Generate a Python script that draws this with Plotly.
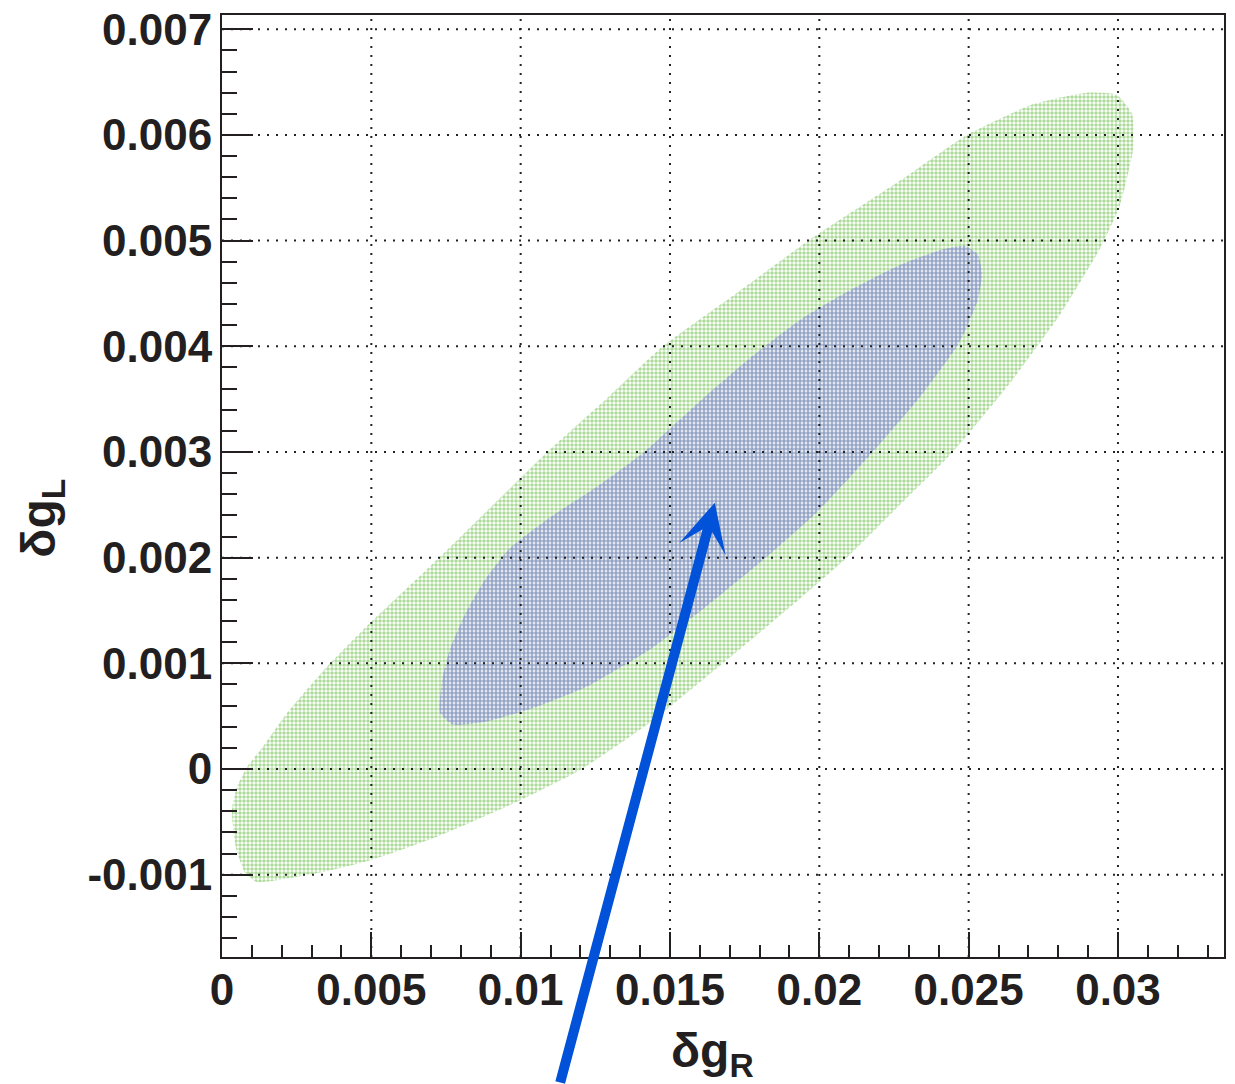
import plotly.graph_objects as go
import numpy as np

# 95% (green) contour boundary, dgR / dgL
green_x = [0.00117, 0.00328, 0.00500, 0.00720, 0.01003, 0.01199, 0.01433, 0.01677, 0.01901,
           0.02092, 0.02270, 0.02447, 0.02638, 0.02806, 0.02939, 0.03006, 0.03050, 0.03047,
           0.02996, 0.02896, 0.02715, 0.02494, 0.02277, 0.01969, 0.01721, 0.01476, 0.01282,
           0.01089, 0.00720, 0.00495, 0.00362, 0.00218, 0.00137, 0.00084, 0.00050, 0.00033,
           0.00047, 0.00077]
green_y = [-0.00107, -0.00098, -0.00086, -0.00064, -0.00029, -0.00001, 0.00044, 0.00100, 0.00153,
           0.00200, 0.00250, 0.00300, 0.00365, 0.00430, 0.00492, 0.00533, 0.00586, 0.00620,
           0.00638, 0.00640, 0.00629, 0.00600, 0.00558, 0.00501, 0.00450, 0.00400, 0.00349,
           0.00300, 0.00198, 0.00138, 0.00100, 0.00053, 0.00021, 0.00002, -0.00017, -0.00039,
           -0.00075, -0.00098]

# 68% (blue) contour boundary
blue_x = [0.00730, 0.00737, 0.00763, 0.00813, 0.00880, 0.00964, 0.01098, 0.01265, 0.01409,
          0.01600, 0.01768, 0.01935, 0.02102, 0.02270, 0.02404, 0.02487, 0.02531, 0.02545,
          0.02531, 0.02497, 0.02461, 0.02337, 0.02179, 0.01992, 0.01825, 0.01600, 0.01443,
          0.01222, 0.01055, 0.00887, 0.00773]
blue_y = [0.00053, 0.00084, 0.00113, 0.00146, 0.00179, 0.00209, 0.00238, 0.00269, 0.00299,
          0.00348, 0.00389, 0.00425, 0.00453, 0.00477, 0.00491, 0.00495, 0.00487, 0.00468,
          0.00444, 0.00420, 0.00400, 0.00352, 0.00300, 0.00243, 0.00201, 0.00149, 0.00115,
          0.00078, 0.00059, 0.00045, 0.00042]

# arrow tip
arrow_x = 0.0165
arrow_y = 0.00252

x_ticks = [0, 0.005, 0.01, 0.015, 0.02, 0.025, 0.03]
x_labels = ["0", "0.005", "0.01", "0.015", "0.02", "0.025", "0.03"]
y_ticks = [-0.001, 0, 0.001, 0.002, 0.003, 0.004, 0.005, 0.006, 0.007]
y_labels = ["-0.001", "0", "0.001", "0.002", "0.003", "0.004", "0.005", "0.006", "0.007"]

x_range = [0, 0.03355]
y_range = [-0.001779, 0.007135]

FONT = "Liberation Sans, Arial, Helvetica, sans-serif"
TXT = "#231f20"

fig = go.Figure()
fig.add_trace(go.Scatter(
    x=green_x + [green_x[0]], y=green_y + [green_y[0]], mode="lines", fill="toself",
    line=dict(width=0, shape="spline", smoothing=0.5),
    fillcolor="rgba(0,0,0,0)",
    fillpattern=dict(shape=".", fgcolor="#5cb535", bgcolor="white",
                     size=4, solidity=0.6),
    hoverinfo="skip", showlegend=False))
fig.add_trace(go.Scatter(
    x=blue_x + [blue_x[0]], y=blue_y + [blue_y[0]], mode="lines", fill="toself",
    line=dict(width=0, shape="spline", smoothing=0.5),
    fillcolor="rgba(0,0,0,0)",
    fillpattern=dict(shape=".", fgcolor="#27478a", bgcolor="white",
                     size=4, solidity=0.7),
    hoverinfo="skip", showlegend=False))

# dotted grid lines on top of the contours
for xv in x_ticks[1:]:
    fig.add_shape(type="line", xref="x", yref="paper", x0=xv, x1=xv, y0=0, y1=1,
                  line=dict(color="#222", width=2, dash="2px,7px"), layer="above")
for yv in y_ticks:
    fig.add_shape(type="line", xref="paper", yref="y", x0=0, x1=1, y0=yv, y1=yv,
                  line=dict(color="#222", width=2, dash="2px,7px"), layer="above")

fig.add_annotation(x=arrow_x, y=arrow_y, xref="x", yref="y", text="",
                   showarrow=True, arrowhead=3, arrowsize=0.8, arrowwidth=10,
                   arrowcolor="#0152d9", ax=-155, ay=600, axref="pixel", ayref="pixel")

fig.add_annotation(x=0.49, y=-0.103, xref="paper", yref="paper",
                   text="<b>δg<sub>R</sub></b>", showarrow=False,
                   font=dict(family=FONT, size=48, color=TXT),
                   xanchor="center", yanchor="middle")
fig.add_annotation(x=-0.18, y=0.466, xref="paper", yref="paper",
                   text="<b>δg<sub>L</sub></b>", showarrow=False, textangle=-90,
                   font=dict(family=FONT, size=48, color=TXT),
                   xanchor="center", yanchor="middle")

axis_common = dict(showline=True, linecolor=TXT, linewidth=2, mirror=True,
                   ticks="inside", tickwidth=2, tickcolor=TXT, showgrid=False,
                   zeroline=False, tickmode="array", automargin=False,
                   tickfont=dict(family=FONT, size=44, color=TXT, weight="bold"))

fig.update_xaxes(range=x_range, tickvals=x_ticks, ticktext=x_labels, ticklen=25,
                 minor=dict(tickmode="array", tickvals=list(np.round(np.arange(0, 0.0336, 0.001), 4)),
                            ticks="inside", ticklen=12, tickwidth=2, tickcolor=TXT, showgrid=False),
                 ticklabelstandoff=-7, **axis_common)
fig.update_yaxes(range=y_range, tickvals=y_ticks, ticktext=y_labels, ticklen=31,
                 minor=dict(tickmode="array", tickvals=list(np.round(np.arange(-0.0018, 0.0072, 0.0002), 5)),
                            ticks="inside", ticklen=15, tickwidth=2, tickcolor=TXT, showgrid=False),
                 ticklabelstandoff=-1, **axis_common)

fig.update_layout(width=1235, height=1084, margin=dict(l=222, r=11, t=15, b=127, autoexpand=False),
                  plot_bgcolor="white", paper_bgcolor="white")

fig.write_html("out.html")
